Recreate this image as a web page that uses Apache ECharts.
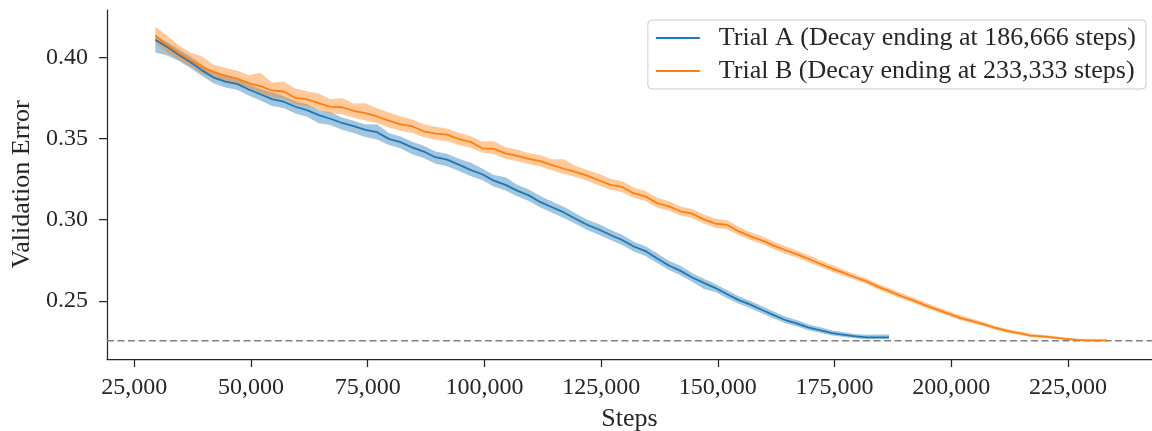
<!DOCTYPE html>
<html>
<head>
<meta charset="utf-8">
<title>Validation Error</title>
<script src="https://cdn.jsdelivr.net/npm/echarts@6/dist/echarts.min.js"></script>
<style>
  html, body { margin: 0; padding: 0; background: #fff; }
  #chart { width: 1152px; height: 431px; }
</style>
</head>
<body>
<div id="chart"></div>
<script>
// evaluation steps and values
var stepsA = [29500, 32000, 34500, 37000, 39500, 42000, 44500, 47000, 49500, 52000,
  54500, 57000, 59500, 62000, 64500, 67000, 69500, 72000, 74500, 77000,
  79500, 82000, 84500, 87000, 89500, 92000, 94500, 97000, 99500, 102000,
  104500, 107000, 109500, 112000, 114500, 117000, 119500, 122000, 124500, 127000,
  129500, 132000, 134500, 137000, 139500, 142000, 144500, 147000, 149500, 152000,
  154500, 157000, 159500, 162000, 164500, 167000, 169500, 172000, 174500, 177000,
  179500, 182000, 184500, 186666];
var meanA = [.4109, .4065, .4017, .3972, .3920, .3876, .3851, .3837, .3802, .3773,
  .3743, .3727, .3696, .3675, .3644, .3622, .3596, .3576, .3554, .3539,
  .3498, .3478, .3446, .3420, .3385, .3370, .3339, .3307, .3280, .3241,
  .3215, .3179, .3150, .3108, .3077, .3045, .3006, .2969, .2940, .2906,
  .2875, .2835, .2807, .2761, .2718, .2685, .2644, .2611, .2579, .2541,
  .2505, .2477, .2444, .2412, .2381, .2360, .2335, .2319, .2301, .2291,
  .2281, .2275, .2275, .2275];
var lowA = [.4030, .4012, .3980, .3935, .3885, .3840, .3815, .3800, .3765, .3735,
  .3700, .3688, .3655, .3634, .3595, .3584, .3555, .3534, .3510, .3494,
  .3460, .3440, .3404, .3380, .3345, .3330, .3300, .3270, .3244, .3205,
  .3180, .3145, .3115, .3075, .3043, .3010, .2975, .2937, .2907, .2875,
  .2845, .2805, .2777, .2733, .2690, .2658, .2618, .2574, .2554, .2516,
  .2482, .2455, .2422, .2391, .2362, .2342, .2318, .2303, .2287, .2278,
  .2270, .2264, .2264, .2264];
var highA = [.4130, .4095, .4050, .4005, .3956, .3910, .3886, .3870, .3836, .3806,
  .3786, .3760, .3730, .3712, .3675, .3662, .3630, .3610, .3586, .3588,
  .3535, .3512, .3480, .3455, .3420, .3406, .3376, .3352, .3316, .3276,
  .3262, .3216, .3186, .3146, .3110, .3080, .3040, .3000, .2973, .2938,
  .2907, .2865, .2837, .2793, .2747, .2717, .2672, .2636, .2604, .2566,
  .2528, .2500, .2467, .2435, .2403, .2380, .2354, .2337, .2318, .2307,
  .2296, .2292, .2293, .2293];

var stepsB = [29500, 32000, 34500, 37000, 39500, 42000, 44500, 47000, 49500, 52000,
  54500, 57000, 59500, 62000, 64500, 67000, 69500, 72000, 74500, 77000,
  79500, 82000, 84500, 87000, 89500, 92000, 94500, 97000, 99500, 102000,
  104500, 107000, 109500, 112000, 114500, 117000, 119500, 122000, 124500, 127000,
  129500, 132000, 134500, 137000, 139500, 142000, 144500, 147000, 149500, 152000,
  154500, 157000, 159500, 162000, 164500, 167000, 169500, 172000, 174500, 177000,
  179500, 182000, 184500, 187000, 189500, 192000, 194500, 197000, 199500, 202000,
  204500, 207000, 209500, 212000, 214500, 217000, 219500, 222000, 224500, 227000,
  229500, 232000, 233333];
var meanB = [.4136, .4076, .4027, .3983, .3940, .3911, .3888, .3870, .3841, .3823,
  .3796, .3790, .3750, .3741, .3718, .3695, .3693, .3670, .3656, .3636,
  .3610, .3588, .3576, .3545, .3530, .3524, .3496, .3480, .3440, .3437,
  .3409, .3394, .3375, .3361, .3336, .3314, .3295, .3272, .3243, .3215,
  .3202, .3162, .3144, .3102, .3082, .3052, .3037, .3002, .2976, .2968,
  .2928, .2897, .2872, .2840, .2812, .2786, .2758, .2727, .2699, .2672,
  .2644, .2619, .2585, .2557, .2527, .2502, .2472, .2446, .2420, .2394,
  .2375, .2355, .2333, .2315, .2301, .2286, .2281, .2274, .2266, .2260,
  .2257, .2257, .2257];
var lowB = [.4088, .4030, .3985, .3945, .3900, .3870, .3845, .3830, .3800, .3782,
  .3755, .3745, .3712, .3700, .3676, .3655, .3650, .3628, .3612, .3594,
  .3568, .3548, .3535, .3508, .3492, .3484, .3460, .3444, .3414, .3404,
  .3376, .3360, .3343, .3328, .3303, .3281, .3263, .3240, .3211, .3185,
  .3170, .3135, .3115, .3076, .3056, .3026, .3011, .2976, .2951, .2941,
  .2904, .2875, .2850, .2818, .2791, .2765, .2738, .2707, .2680, .2654,
  .2628, .2603, .2569, .2541, .2512, .2487, .2457, .2432, .2407, .2381,
  .2362, .2343, .2321, .2304, .2291, .2277, .2272, .2266, .2259, .2254,
  .2251, .2252, .2252];
var highB = [.4190, .4135, .4075, .4030, .4005, .3955, .3935, .3920, .3890, .3905,
  .3845, .3850, .3808, .3792, .3778, .3742, .3750, .3716, .3718, .3686,
  .3660, .3638, .3618, .3588, .3572, .3562, .3536, .3516, .3482, .3484,
  .3447, .3433, .3410, .3397, .3373, .3372, .3333, .3307, .3283, .3253,
  .3237, .3197, .3177, .3135, .3114, .3082, .3066, .3032, .3006, .2996,
  .2955, .2923, .2898, .2865, .2836, .2809, .2781, .2749, .2721, .2692,
  .2662, .2637, .2603, .2575, .2545, .2520, .2490, .2463, .2436, .2410,
  .2390, .2369, .2346, .2327, .2312, .2297, .2291, .2283, .2274, .2267,
  .2264, .2263, .2263];

var nameA = 'Trial A (Decay ending at 186,666 steps)';
var nameB = 'Trial B (Decay ending at 233,333 steps)';
var targetError = 0.2255;   // dashed reference line
var xMin = 19150, xMax = 243000;
var yMin = 0.2142, yMax = 0.4292;
var xTicks = [25000, 50000, 75000, 100000, 125000, 150000, 175000, 200000, 225000];
var yTicks = [0.25, 0.30, 0.35, 0.40];

var serif = '"Liberation Serif", "DejaVu Serif", serif';
var ink = '#262626';

function pairs(xs, ys) {
  return xs.map(function (x, i) { return [x, ys[i]]; });
}

// shaded min/max band drawn as one polygon through the axis scales
function band(xs, lo, hi, fill) {
  return {
    type: 'custom',
    silent: true,
    z: 2,
    data: xs.map(function (x, i) { return [x, lo[i], hi[i]]; }),
    encode: { x: 0, y: [1, 2] },
    renderItem: function (params, api) {
      if (params.dataIndex !== 0) return null;
      var pts = [];
      for (var i = 0; i < xs.length; i++) pts.push(api.coord([xs[i], hi[i]]));
      for (var j = xs.length - 1; j >= 0; j--) pts.push(api.coord([xs[j], lo[j]]));
      return { type: 'polygon', shape: { points: pts }, style: { fill: fill } };
    }
  };
}

var myChart = echarts.init(document.getElementById('chart'));
var option = {
  animation: false,
  backgroundColor: '#ffffff',
  grid: { left: 107, right: 0, top: 10, bottom: 72, outerBoundsMode: 'none', containLabel: false },
  legend: {
    data: [nameA, nameB],
    orient: 'vertical',
    right: 6,
    top: 20,
    padding: [5, 10, 5, 8],
    itemGap: 7,
    itemWidth: 44,
    itemHeight: 2,
    icon: 'rect',
    backgroundColor: 'rgba(255,255,255,0.8)',
    borderColor: '#cccccc',
    borderWidth: 1,
    borderRadius: 4,
    textStyle: { fontFamily: serif, fontSize: 26, color: ink, padding: [0, 0, 0, 14] }
  },
  xAxis: {
    type: 'value',
    min: xMin,
    max: xMax,
    name: 'Steps',
    nameLocation: 'middle',
    nameGap: 47,
    nameTextStyle: { fontFamily: serif, fontSize: 26, color: ink },
    splitLine: { show: false },
    axisLine: { lineStyle: { color: ink, width: 1.25 } },
    axisTick: { customValues: xTicks, length: 8, lineStyle: { color: ink, width: 1.25 } },
    axisLabel: {
      customValues: xTicks,
      margin: 17,
      fontFamily: serif, fontSize: 24, color: ink,
      formatter: function (v) { return v.toLocaleString('en-US'); }
    }
  },
  yAxis: {
    type: 'value',
    min: yMin,
    max: yMax,
    name: 'Validation Error',
    nameLocation: 'middle',
    nameGap: 72,
    nameRotate: 90,
    nameTextStyle: { fontFamily: serif, fontSize: 26, color: ink },
    splitLine: { show: false },
    axisLine: { show: true, lineStyle: { color: ink, width: 1.25 } },
    axisTick: { show: true, customValues: yTicks, length: 8, lineStyle: { color: ink, width: 1.25 } },
    axisLabel: {
      customValues: yTicks,
      margin: 19,
      fontFamily: serif, fontSize: 24, color: ink,
      formatter: function (v) { return v.toFixed(2); }
    }
  },
  series: [
    {
      // horizontal dashed reference line across the whole plot
      type: 'line', silent: true, symbol: 'none', z: 1,
      data: [[xMin, targetError], [xMax, targetError]],
      lineStyle: { color: '#808080', type: [7, 3.5], width: 1.5 }
    },
    band(stepsA, lowA, highA, 'rgba(31,119,180,0.42)'),
    {
      name: nameA, type: 'line', data: pairs(stepsA, meanA),
      symbol: 'none', color: '#1f77b4', lineStyle: { width: 1.8 }, z: 3
    },
    band(stepsB, lowB, highB, 'rgba(255,127,14,0.42)'),
    {
      name: nameB, type: 'line', data: pairs(stepsB, meanB),
      symbol: 'none', color: '#ff7f0e', lineStyle: { width: 1.8 }, z: 3
    }
  ]
};
myChart.setOption(option);
</script>
</body>
</html>
